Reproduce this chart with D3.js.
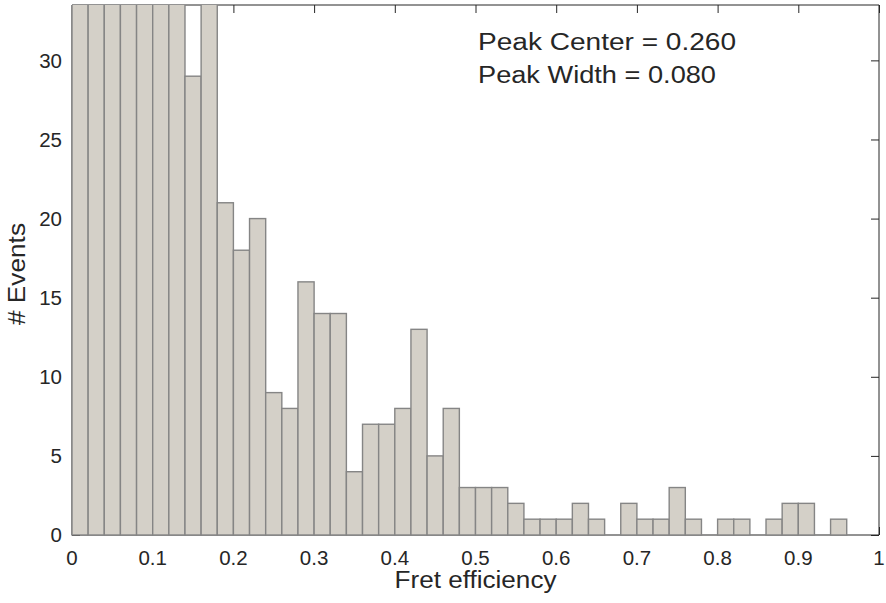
<!DOCTYPE html>
<html>
<head>
<meta charset="utf-8">
<script src="https://cdn.jsdelivr.net/npm/d3@7/dist/d3.min.js"></script>
<style>
  html, body { margin: 0; padding: 0; background: #ffffff; }
  svg { display: block; }
  text { font-family: "Liberation Sans", Arial, Helvetica, sans-serif; fill: #262626; }
</style>
</head>
<body>
<svg id="chart" width="886" height="603"></svg>
<script>
// Histogram of FRET efficiency: bin lower edges and event counts per bin
const binEdges = [0.00, 0.02, 0.04, 0.06, 0.08, 0.10, 0.12, 0.14, 0.16, 0.18,
                  0.20, 0.22, 0.24, 0.26, 0.28, 0.30, 0.32, 0.34, 0.36, 0.38,
                  0.40, 0.42, 0.44, 0.46, 0.48, 0.50, 0.52, 0.54, 0.56, 0.58,
                  0.60, 0.62, 0.64, 0.66, 0.68, 0.70, 0.72, 0.74, 0.76, 0.78,
                  0.80, 0.82, 0.84, 0.86, 0.88, 0.90, 0.92, 0.94, 0.96, 0.98, 1.00];
const counts = [40, 52, 61, 64, 58, 47, 41, 29, 36, 21,
                18, 20, 9, 8, 16, 14, 14, 4, 7, 7,
                8, 13, 5, 8, 3, 3, 3, 2, 1, 1,
                1, 2, 1, 0, 2, 1, 1, 3, 1, 0,
                1, 1, 0, 1, 2, 2, 0, 1, 0, 0];

const xTicks = [0, 0.1, 0.2, 0.3, 0.4, 0.5, 0.6, 0.7, 0.8, 0.9, 1];
const xTickLabels = ["0", "0.1", "0.2", "0.3", "0.4", "0.5", "0.6", "0.7", "0.8", "0.9", "1"];
const yTicks = [0, 5, 10, 15, 20, 25, 30];
const yTickLabels = ["0", "5", "10", "15", "20", "25", "30"];
const xDomain = [0, 1];
const yDomain = [0, 33.5];

const xLabel = "Fret efficiency";
const yLabel = "# Events";
const annotationLines = ["Peak Center = 0.260", "Peak Width = 0.080"];

// Layout
const plot = { left: 72, right: 879, top: 5, bottom: 535 };
const axisColor = "#262626";
const barFill = "#d4d0c8";
const barEdge = "#858585";
const tickLen = 8;

const svg = d3.select("#chart");

const x = d3.scaleLinear().domain(xDomain).range([plot.left, plot.right]);
const y = d3.scaleLinear().domain(yDomain).range([plot.bottom, plot.top]);

// Axes box with inward ticks on all four sides
const bottomAxis = d3.axisBottom(x).tickValues(xTicks).tickSize(-tickLen).tickFormat(() => "");
const topAxis = d3.axisTop(x).tickValues(xTicks).tickSize(-tickLen).tickFormat(() => "");
const leftAxis = d3.axisLeft(y).tickValues(yTicks).tickSize(-tickLen).tickFormat(() => "");
const rightAxis = d3.axisRight(y).tickValues(yTicks).tickSize(-tickLen).tickFormat(() => "");

function styleAxis(g) {
  g.selectAll("path.domain").attr("stroke", axisColor).attr("stroke-width", 1);
  g.selectAll(".tick line").attr("stroke", axisColor).attr("stroke-width", 1);
}

svg.append("g").attr("transform", `translate(0,${plot.bottom})`).call(bottomAxis).call(styleAxis)
  .select("path.domain").attr("d", `M${plot.left},0H${plot.right}`);
svg.append("g").attr("transform", `translate(0,${plot.top})`).call(topAxis).call(styleAxis)
  .select("path.domain").attr("d", `M${plot.left},0H${plot.right}`);
svg.append("g").attr("transform", `translate(${plot.left},0)`).call(leftAxis).call(styleAxis)
  .select("path.domain").attr("d", `M0,${plot.top}V${plot.bottom}`);
svg.append("g").attr("transform", `translate(${plot.right},0)`).call(rightAxis).call(styleAxis)
  .select("path.domain").attr("d", `M0,${plot.top}V${plot.bottom}`);

// Bars, clipped to the axes area
svg.append("defs").append("clipPath").attr("id", "plot-clip")
  .append("rect")
  .attr("x", plot.left - 2).attr("y", plot.top)
  .attr("width", plot.right - plot.left + 4).attr("height", plot.bottom - plot.top + 2);

const bins = counts.map((c, i) => ({ x0: binEdges[i], x1: binEdges[i + 1], count: c }));

svg.append("g").attr("clip-path", "url(#plot-clip)")
  .selectAll("rect")
  .data(bins)
  .join("rect")
  .attr("x", d => x(d.x0))
  .attr("width", d => x(d.x1) - x(d.x0))
  .attr("y", d => y(d.count))
  .attr("height", d => y(0) - y(d.count))
  .attr("fill", barFill)
  .attr("stroke", barEdge)
  .attr("stroke-width", 1.4);

// Tick labels
svg.append("g").selectAll("text")
  .data(xTicks)
  .join("text")
  .attr("x", d => x(d))
  .attr("y", 565)
  .attr("text-anchor", "middle")
  .attr("font-size", 20.5)
  .text((d, i) => xTickLabels[i]);

svg.append("g").selectAll("text")
  .data(yTicks)
  .join("text")
  .attr("x", 62)
  .attr("y", d => y(d))
  .attr("dy", "0.36em")
  .attr("text-anchor", "end")
  .attr("font-size", 20.5)
  .text((d, i) => yTickLabels[i]);

// Axis titles
svg.append("text")
  .attr("x", (plot.left + plot.right) / 2)
  .attr("y", 588)
  .attr("text-anchor", "middle")
  .attr("font-size", 23)
  .attr("textLength", 162)
  .attr("lengthAdjust", "spacingAndGlyphs")
  .text(xLabel);

svg.append("text")
  .attr("transform", `translate(25,${(plot.top + plot.bottom) / 2 + 4}) rotate(-90)`)
  .attr("text-anchor", "middle")
  .attr("font-size", 23)
  .attr("textLength", 102)
  .attr("lengthAdjust", "spacingAndGlyphs")
  .text(yLabel);

// Fit annotation
const annotationWidths = [258, 238];
svg.append("g").selectAll("text")
  .data(annotationLines)
  .join("text")
  .attr("x", 478)
  .attr("y", (d, i) => 50 + i * 33)
  .attr("font-size", 23.5)
  .attr("textLength", (d, i) => annotationWidths[i])
  .attr("lengthAdjust", "spacingAndGlyphs")
  .text(d => d);
</script>
</body>
</html>
